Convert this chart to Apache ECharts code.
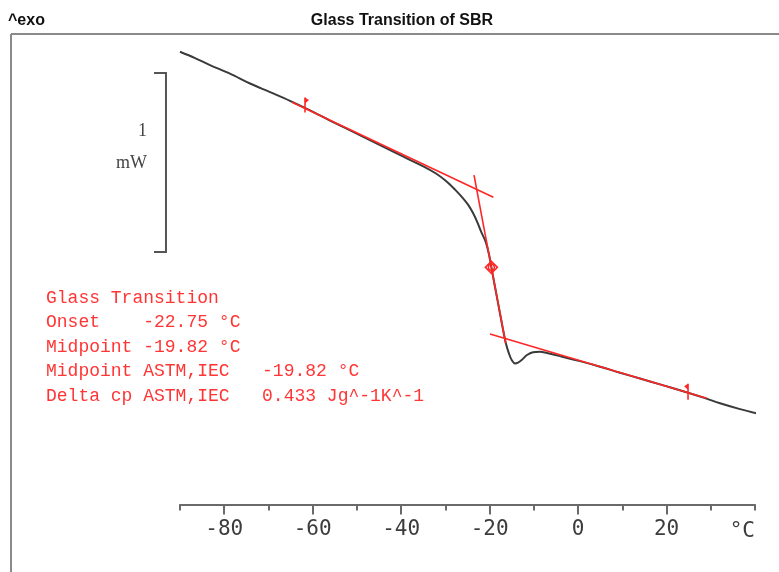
<!DOCTYPE html>
<html>
<head>
<meta charset="utf-8">
<script src="https://cdn.jsdelivr.net/npm/echarts@6/dist/echarts.min.js"></script>
<style>html,body{margin:0;padding:0;background:#fff}#c{width:779px;height:572px}</style>
</head>
<body>
<div id="c"></div>
<script>
// ---- data (temperature in °C, heat flow in mW, relative) ----
const temps = [-90.00,-86.61,-83.22,-78.70,-74.17,-69.65,-65.13,-60.61,-56.09,-48.56,-41.01,-35.00,-32.12,-29.86,-27.82,-26.24,-24.88,-23.75,-22.74,-21.83,-20.86,-20.03,-19.35,-18.22,-17.09,-16.34,-15.62,-14.94,-14.26,-13.58,-12.68,-11.55,-10.19,-8.61,-7.02,-4.09,0.43,4.96,9.48,14.00,18.53,24.86,28.70,32.10,36.62,40.60];
const heatFlow = [1.119,1.084,1.045,0.997,0.942,0.894,0.845,0.792,0.735,0.644,0.551,0.479,0.439,0.397,0.349,0.307,0.265,0.218,0.165,0.109,0.056,-0.026,-0.119,-0.268,-0.417,-0.508,-0.567,-0.606,-0.622,-0.617,-0.601,-0.575,-0.559,-0.556,-0.564,-0.581,-0.609,-0.640,-0.674,-0.706,-0.739,-0.786,-0.816,-0.844,-0.877,-0.902];
const upperBaseline = [[-64.68,0.837],[-19.16,0.306]];
const steepTangent = [[-23.53,0.430],[-16.36,-0.510]];
const lowerBaseline = [[-19.91,-0.458],[29.08,-0.817]];
const evalLimits = [[-61.74,0.808],[24.86,-0.786]];
const midpointMark = [[-19.60,-0.085]];
const scaleBar = [[-95.88,1],[-93.17,1],[-93.17,0],[-95.88,0]];
const scaleBarLabels = ['1','mW'];
const xTickLabels = [-80,-60,-40,-20,0,20];
const xMajorTicks = [-80,-60,-40,-20,0,20];
const titleText = 'Glass Transition of SBR';
const exoText = '^exo';
const unitText = '°C';
const annotationLines = [
  'Glass Transition',
  'Onset    -22.75 °C',
  'Midpoint -19.82 °C',
  'Midpoint ASTM,IEC   -19.82 °C',
  'Delta cp ASTM,IEC   0.433 Jg^-1K^-1'
];

const curve = temps.map((t, i) => [t, heatFlow[i]]);
const RED = '#ff2626';

const chart = echarts.init(document.getElementById('c'), null, {renderer: 'canvas'});
const axisCommon = {
  type: 'value', min: -90, max: 40, interval: 10, position: 'bottom',
  splitLine: {show: false}
};
chart.setOption({
  animation: false,
  backgroundColor: '#ffffff',
  grid: {left: 180, right: 24, top: 37.3, bottom: 67.5, containLabel: false},
  xAxis: [
    Object.assign({}, axisCommon, {
      axisLine: {show: true, onZero: false, lineStyle: {color: '#6a6a6a', width: 2}},
      axisTick: {show: true, length: 6, lineStyle: {color: '#6a6a6a', width: 2}},
      axisLabel: {
        show: true, customValues: xTickLabels, margin: 15,
        fontFamily: 'DejaVu Sans Mono', fontSize: 21, color: '#3c3c3c'
      }
    }),
    Object.assign({}, axisCommon, {
      axisLine: {show: false, onZero: false},
      axisTick: {show: true, length: 10, customValues: xMajorTicks, lineStyle: {color: '#6a6a6a', width: 2}},
      axisLabel: {show: false}
    })
  ],
  yAxis: {type: 'value', min: -1.41, max: 1.2, show: false},
  series: [
    {
      type: 'line', data: curve, smooth: 0.35, showSymbol: false, clip: false, z: 2,
      lineStyle: {color: '#3a3a3a', width: 2}
    },
    {type: 'line', data: upperBaseline, showSymbol: false, z: 3, lineStyle: {color: RED, width: 1.6}},
    {type: 'line', data: steepTangent, showSymbol: false, z: 3, lineStyle: {color: RED, width: 1.6}},
    {type: 'line', data: lowerBaseline, showSymbol: false, z: 3, lineStyle: {color: RED, width: 1.6}},
    {
      type: 'custom', data: [0], clip: false, z: 2,
      renderItem: function (params, api) {
        return {
          type: 'polyline',
          shape: {points: scaleBar.map(p => api.coord(p))},
          style: {fill: 'none', stroke: '#555555', lineWidth: 2}
        };
      }
    },
    {
      type: 'custom', data: evalLimits, z: 4, clip: false,
      renderItem: function (params, api) {
        const p = api.coord([api.value(0), api.value(1)]);
        const dir = params.dataIndex === 0 ? 1 : -1;
        const top = p[1] - (dir === 1 ? 10 : 9);
        const bot = p[1] + (dir === 1 ? 5 : 7);
        return {
          type: 'group',
          children: [
            {type: 'line', shape: {x1: p[0], y1: top, x2: p[0], y2: bot}, style: {stroke: RED, lineWidth: 1.6}},
            {type: 'polygon', shape: {points: [[p[0], top], [p[0] + dir * 4, top + 2.5], [p[0], top + 6]]}, style: {fill: RED}}
          ]
        };
      }
    },
    {
      type: 'custom', data: midpointMark, z: 4, clip: false,
      renderItem: function (params, api) {
        const p = api.coord([api.value(0), api.value(1)]);
        return {
          type: 'group',
          children: [
            {type: 'polygon', shape: {points: [[p[0] - 6, p[1]], [p[0], p[1] - 6], [p[0] + 6, p[1]], [p[0], p[1] + 6]]}, style: {fill: 'none', stroke: RED, lineWidth: 1.6}},
            {type: 'circle', shape: {cx: p[0], cy: p[1], r: 3}, style: {fill: 'none', stroke: RED, lineWidth: 1.4}}
          ]
        };
      }
    }
  ],
  graphic: [
    {type: 'line', shape: {x1: 11, y1: 34, x2: 779, y2: 34}, style: {stroke: '#8a8a8a', lineWidth: 2}},
    {type: 'line', shape: {x1: 11, y1: 34, x2: 11, y2: 572}, style: {stroke: '#8a8a8a', lineWidth: 2}},
    {type: 'text', x: 402, y: 21, style: {text: titleText, font: 'bold 16px "Liberation Sans"', fill: '#111', align: 'center', verticalAlign: 'middle'}},
    {type: 'text', x: 8, y: 21, style: {text: exoText, font: 'bold 16px "Liberation Sans"', fill: '#111', align: 'left', verticalAlign: 'middle'}},
    {type: 'text', x: 147, y: 131, style: {text: scaleBarLabels[0], font: '18px "Liberation Serif"', fill: '#444', align: 'right', verticalAlign: 'middle'}},
    {type: 'text', x: 147, y: 163, style: {text: scaleBarLabels[1], font: '18px "Liberation Serif"', fill: '#444', align: 'right', verticalAlign: 'middle'}},
    {type: 'text', x: 755, y: 532, style: {text: unitText, font: '21px "DejaVu Sans Mono"', fill: '#3c3c3c', align: 'right', verticalAlign: 'middle'}},
    {type: 'text', x: 46, y: 286, style: {text: annotationLines.join('\n'), font: '18px "Liberation Mono"', lineHeight: 24.4, fill: '#ff3535', align: 'left', verticalAlign: 'top'}}
  ]
});
</script>
</body>
</html>
